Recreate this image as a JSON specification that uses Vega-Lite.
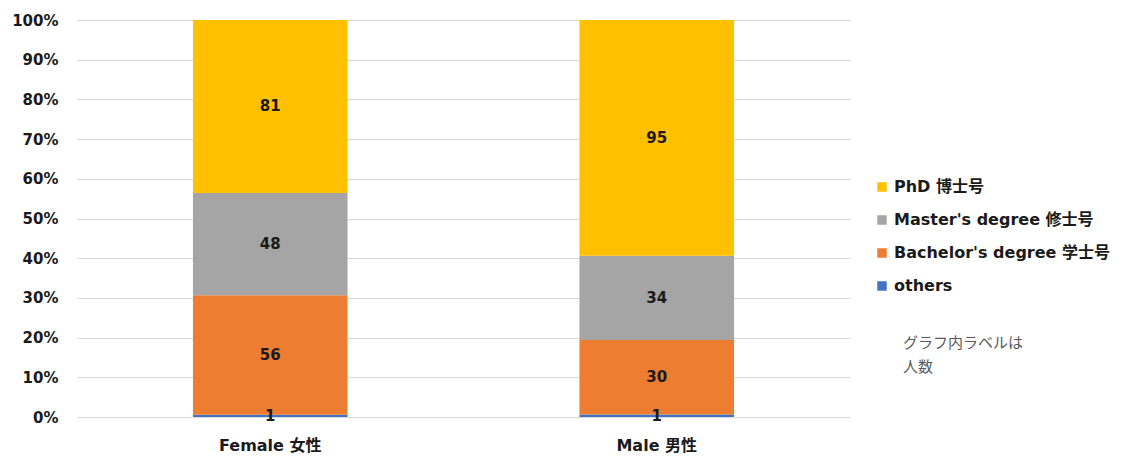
{
  "$schema": "https://vega.github.io/schema/vega-lite/v6.json",
  "width": 773,
  "height": 397,
  "autosize": {"type": "none"},
  "padding": {"left": 77, "top": 20, "right": 272, "bottom": 40},
  "config": {
    "font": "DejaVu Sans, Noto Sans CJK JP",
    "view": {"stroke": null},
    "axis": {"labelColor": "#1a1a1a", "labelFont": "DejaVu Sans, Noto Sans CJK JP"},
    "legend": {"labelFont": "DejaVu Sans, Noto Sans CJK JP"}
  },
  "title": {
    "text": ["グラフ内ラベルは", "人数"],
    "orient": "bottom",
    "anchor": "end",
    "frame": "group",
    "align": "left",
    "baseline": "top",
    "font": "Noto Sans CJK JP",
    "fontSize": 15,
    "fontWeight": "normal",
    "color": "#595959",
    "lineHeight": 24,
    "offset": 0,
    "dx": 53,
    "dy": -117
  },
  "data": {
    "values": [
      {"gender": "Female 女性", "degree": "others", "rank": 1, "count": 1},
      {"gender": "Female 女性", "degree": "Bachelor's degree 学士号", "rank": 2, "count": 56},
      {"gender": "Female 女性", "degree": "Master's degree 修士号", "rank": 3, "count": 48},
      {"gender": "Female 女性", "degree": "PhD 博士号", "rank": 4, "count": 81},
      {"gender": "Male 男性", "degree": "others", "rank": 1, "count": 1},
      {"gender": "Male 男性", "degree": "Bachelor's degree 学士号", "rank": 2, "count": 30},
      {"gender": "Male 男性", "degree": "Master's degree 修士号", "rank": 3, "count": 34},
      {"gender": "Male 男性", "degree": "PhD 博士号", "rank": 4, "count": 95}
    ]
  },
  "transform": [
    {
      "stack": "count",
      "groupby": ["gender"],
      "sort": [{"field": "rank", "order": "ascending"}],
      "offset": "normalize",
      "as": ["y0", "y1"]
    },
    {"calculate": "(datum.y0 + datum.y1) / 2", "as": "mid"}
  ],
  "encoding": {
    "x": {
      "field": "gender",
      "type": "nominal",
      "sort": ["Female 女性", "Male 男性"],
      "scale": {"paddingInner": 0.6, "paddingOuter": 0.3},
      "axis": {
        "title": null,
        "labelAngle": 0,
        "labelFontSize": 16,
        "labelFontWeight": "bold",
        "labelPadding": 20,
        "ticks": false,
        "domain": true,
        "domainColor": "#d9d9d9",
        "grid": false
      }
    }
  },
  "layer": [
    {
      "mark": {"type": "bar"},
      "encoding": {
        "y": {
          "field": "y0",
          "type": "quantitative",
          "scale": {"domain": [0, 1]},
          "axis": {
            "title": null,
            "format": "%",
            "values": [0, 0.1, 0.2, 0.3, 0.4, 0.5, 0.6, 0.7, 0.8, 0.9, 1],
            "labelFontSize": 15,
            "labelFontWeight": "bold",
            "labelPadding": 19,
            "labelOverlap": false,
            "ticks": false,
            "domain": false,
            "grid": true,
            "gridColor": "#d9d9d9",
            "gridWidth": 1
          }
        },
        "y2": {"field": "y1"},
        "color": {
          "field": "degree",
          "type": "nominal",
          "scale": {
            "domain": ["PhD 博士号", "Master's degree 修士号", "Bachelor's degree 学士号", "others"],
            "range": ["#FFC000", "#A5A5A5", "#ED7D31", "#4472C4"]
          },
          "legend": {
            "title": null,
            "orient": "none",
            "legendX": 797,
            "legendY": 159,
            "symbolType": "square",
            "symbolSize": 90,
            "symbolStrokeWidth": 0,
            "labelFontSize": 16,
            "labelFontWeight": "bold",
            "labelColor": "#1a1a1a",
            "labelOffset": 4,
            "labelLimit": 400,
            "rowPadding": 17
          }
        }
      }
    },
    {
      "mark": {"type": "text", "fontSize": 15, "fontWeight": "bold", "color": "#1a1a1a", "baseline": "middle"},
      "encoding": {
        "y": {
          "field": "mid",
          "type": "quantitative",
          "axis": {
            "title": null,
            "format": "%",
            "values": [0, 0.1, 0.2, 0.3, 0.4, 0.5, 0.6, 0.7, 0.8, 0.9, 1],
            "labelFontSize": 15,
            "labelFontWeight": "bold",
            "labelPadding": 19,
            "labelOverlap": false,
            "ticks": false,
            "domain": false,
            "grid": true,
            "gridColor": "#d9d9d9",
            "gridWidth": 1
          }
        },
        "text": {"field": "count", "type": "quantitative"}
      }
    }
  ]
}
